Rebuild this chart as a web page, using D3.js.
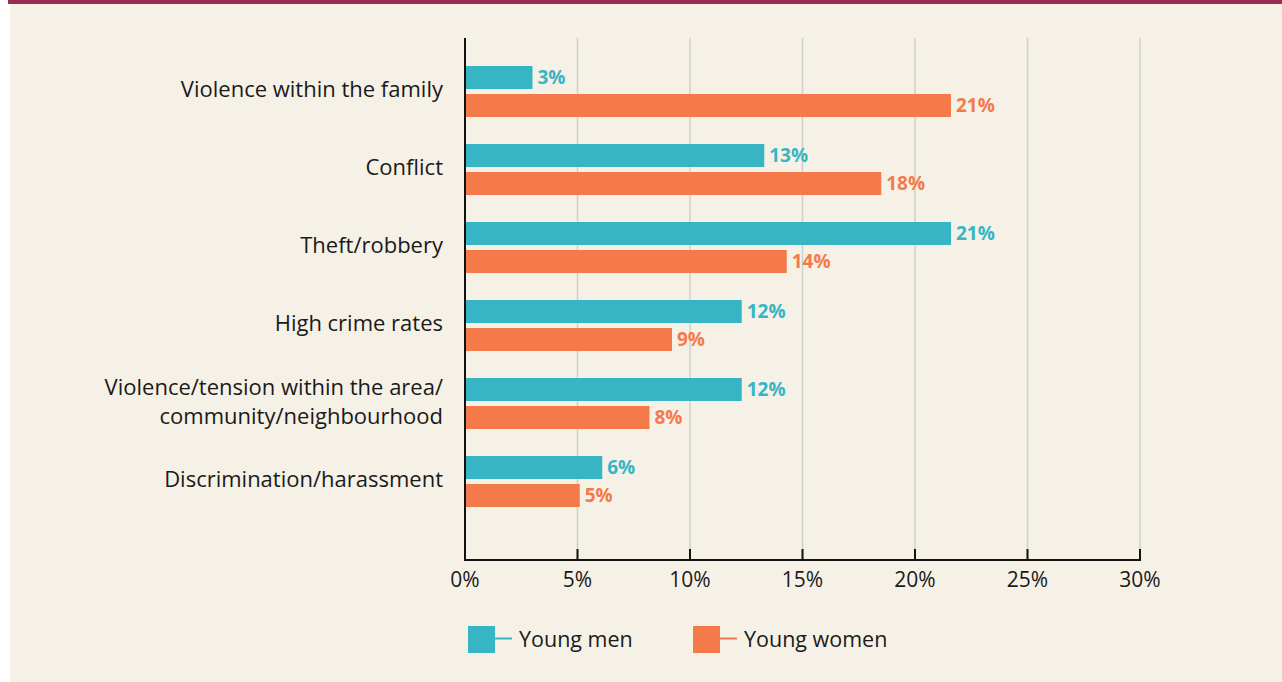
<!DOCTYPE html>
<html>
<head>
<meta charset="utf-8">
<script src="https://cdn.jsdelivr.net/npm/d3@7"></script>
<style>
  body { margin: 0; background: #fff; }
  svg { display: block; font-family: "Open Sans", "Noto Sans", sans-serif; }
</style>
</head>
<body>
<div id="chart"></div>
<script>
const categories = [
  "Violence within the family",
  "Conflict",
  "Theft/robbery",
  "High crime rates",
  "Violence/tension within the area/\ncommunity/neighbourhood",
  "Discrimination/harassment"
];
const youngMen = [3.0, 13.3, 21.6, 12.3, 12.3, 6.1];
const youngWomen = [21.6, 18.5, 14.3, 9.2, 8.2, 5.1];
const menLabels = ["3%", "13%", "21%", "12%", "12%", "6%"];
const womenLabels = ["21%", "18%", "14%", "9%", "8%", "5%"];
const ticks = [0, 5, 10, 15, 20, 25, 30];
const seriesNames = ["Young men", "Young women"];
const colors = ["#37b5c5", "#f47a4a"];

const width = 1282, height = 682;
const svg = d3.select("#chart").append("svg")
  .attr("width", width)
  .attr("height", height);

// panel + top rule
svg.append("rect").attr("x", 10).attr("y", 0).attr("width", width - 10).attr("height", height)
  .attr("fill", "#f5f1e6");
svg.append("rect").attr("x", 8).attr("y", 0).attr("width", width - 8).attr("height", 4)
  .attr("fill", "#9b2a55");

const x = d3.scaleLinear().domain([0, 30]).range([465, 1140]);
const y = d3.scaleBand().domain(categories).range([50, 518]).paddingInner(0).paddingOuter(0);
const barH = 23, gap = 5;
const plotTop = 38, axisY = 560;

// gridlines
svg.append("g").selectAll("line")
  .data(ticks.filter(d => d > 0))
  .join("line")
  .attr("x1", d => x(d)).attr("x2", d => x(d))
  .attr("y1", plotTop).attr("y2", axisY)
  .attr("stroke", "#cfcfcf").attr("stroke-width", 1.5);

// bars
const rows = categories.map((c, i) => ({ c, m: youngMen[i], w: youngWomen[i], ml: menLabels[i], wl: womenLabels[i] }));
const g = svg.append("g");
const rowTop = d => y(d.c) + 16;

g.selectAll("rect.m").data(rows).join("rect").attr("class", "m")
  .attr("x", x(0)).attr("y", d => rowTop(d))
  .attr("width", d => x(d.m) - x(0)).attr("height", barH)
  .attr("fill", colors[0]);
g.selectAll("rect.w").data(rows).join("rect").attr("class", "w")
  .attr("x", x(0)).attr("y", d => rowTop(d) + barH + gap)
  .attr("width", d => x(d.w) - x(0)).attr("height", barH)
  .attr("fill", colors[1]);

g.selectAll("text.ml").data(rows).join("text").attr("class", "ml")
  .attr("x", d => x(d.m) + 5).attr("y", d => rowTop(d) + barH / 2 - 0.5)
  .attr("dy", "0.35em")
  .attr("font-size", 19).attr("font-weight", 700).attr("fill", colors[0])
  .text(d => d.ml);
g.selectAll("text.wl").data(rows).join("text").attr("class", "wl")
  .attr("x", d => x(d.w) + 5).attr("y", d => rowTop(d) + barH + gap + barH / 2 - 0.5)
  .attr("dy", "0.35em")
  .attr("font-size", 19).attr("font-weight", 700).attr("fill", colors[1])
  .text(d => d.wl);

// category labels
const lab = svg.append("g").selectAll("text").data(rows).join("text")
  .attr("x", 443)
  .attr("text-anchor", "end")
  .attr("font-size", 22).attr("fill", "#1a1a1a");
lab.each(function (d) {
  const lines = d.c.split("\n");
  const cy = rowTop(d) + barH + gap / 2 - 2;
  d3.select(this).selectAll("tspan").data(lines).join("tspan")
    .attr("x", 443)
    .attr("y", (l, i) => cy + (i - (lines.length - 1) / 2) * 29)
    .attr("dy", "0.35em")
    .text(l => l);
});

// axes
svg.append("line").attr("x1", x(0)).attr("x2", x(0)).attr("y1", plotTop).attr("y2", axisY + 1)
  .attr("stroke", "#111").attr("stroke-width", 2);
svg.append("line").attr("x1", x(0) - 1).attr("x2", x(30) + 1).attr("y1", axisY).attr("y2", axisY)
  .attr("stroke", "#111").attr("stroke-width", 2);
svg.append("g").selectAll("line").data(ticks).join("line")
  .attr("x1", d => x(d)).attr("x2", d => x(d))
  .attr("y1", axisY - 11).attr("y2", axisY)
  .attr("stroke", "#111").attr("stroke-width", 2);
svg.append("g").selectAll("text").data(ticks).join("text")
  .attr("x", d => x(d)).attr("y", 580).attr("dy", "0.35em")
  .attr("text-anchor", "middle")
  .attr("font-size", 21).attr("fill", "#1a1a1a")
  .text(d => d + "%");

// legend
const legX = [468, 693];
const leg = svg.append("g").selectAll("g").data(seriesNames).join("g")
  .attr("transform", (d, i) => `translate(${legX[i]},626)`);
leg.append("rect").attr("width", 27).attr("height", 27).attr("fill", (d, i) => colors[i]);
leg.append("line").attr("x1", 27).attr("x2", 44).attr("y1", 12.5).attr("y2", 12.5)
  .attr("stroke", (d, i) => colors[i]).attr("stroke-width", 2);
leg.append("text").attr("x", 51).attr("y", 13).attr("dy", "0.35em")
  .attr("font-size", 21.5).attr("fill", "#1a1a1a")
  .text(d => d);
</script>
</body>
</html>
